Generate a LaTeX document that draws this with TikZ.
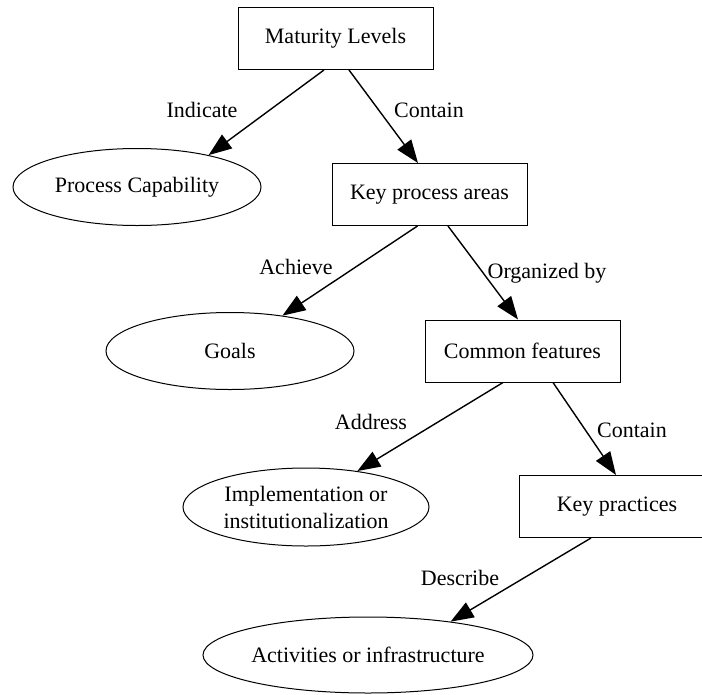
\documentclass[tikz,border=0pt]{standalone}
\usepackage{fontspec}
\setmainfont{Liberation Serif}
\usetikzlibrary{arrows.meta,shapes.geometric}

\tikzset{
  box/.style={draw, line width=1pt, minimum width=195pt, minimum height=62pt,
    inner sep=0pt},
  oval/.style={draw, ellipse, line width=1pt, minimum width=248pt,
    minimum height=77pt, inner sep=0pt, align=center},
  rel/.style={line width=1.4pt, -{Triangle[length=23pt,width=17pt]}},
  lbl/.style={inner sep=0pt}
}

\begin{document}
\begin{tikzpicture}[x=1pt,y=-1pt,font=\fontsize{22}{27}\selectfont]
    \useasboundingbox (0,0) rectangle (702,694);
    \clip (0,0) rectangle (702,694);
    \node[box] (ml) at (335.5,38.5) {Maturity Levels};
    \node[oval] (pc) at (137,187) {Process Capability};
    \node[box] (kpa) at (429.5,194.5) {Key process areas};
    \node[oval] (goals) at (230,351) {Goals};
    \node[box] (cf) at (522.5,351) {Common features};
    \node[oval,minimum width=246pt,minimum height=78pt] (impl) at (306,507)
    {Implementation or\\institutionalization};
    \node[box,minimum width=196pt] (kp) at (617,506.5) {Key practices};
    \node[oval,minimum width=246pt,minimum height=76pt] (act) at (368,655)
    {Activities or infrastructure};
    % relations
    \draw[rel] ([xshift=-11.5pt]ml.south) -- (pc.24); \draw[rel]
    ([xshift=13.5pt]ml.south) -- ([xshift=-11.5pt]kpa.north); \draw[rel]
    ([xshift=-12pt]kpa.south) -- (goals.34); \draw[rel]
    ([xshift=18.5pt]kpa.south) -- ([xshift=-4.5pt]cf.north); \draw[rel]
    ([xshift=-19.5pt]cf.south) -- (impl.35); \draw[rel]
    ([xshift=30.5pt]cf.south) -- ([xshift=-1pt]kp.north); \draw[rel]
    ([xshift=-26pt]kp.south) -- (act.22);
    % labels
    \node[lbl] (indicate) at (202,110) {Indicate}; \node[lbl] (contain1)
    at (429,110) {Contain}; \node[lbl] (achieve) at (296,267) {Achieve};
    \node[lbl] (orgby) at (547,273) {Organized by}; \node[lbl] (address)
    at (371,422) {Address}; \node[lbl] (contain2) at (632,430) {Contain};
    \node[lbl] (describe) at (460,578) {Describe};
  \end{tikzpicture}
\end{document}
